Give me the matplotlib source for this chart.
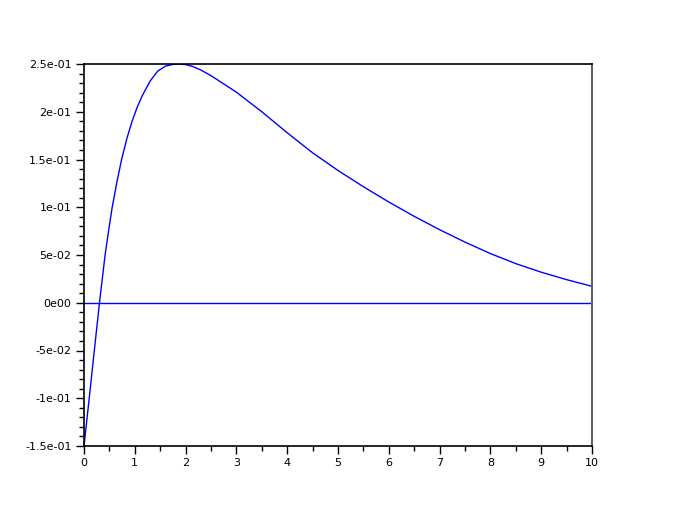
import matplotlib
matplotlib.use('Agg')
import matplotlib.pyplot as plt
from matplotlib.ticker import MultipleLocator

# values
x = [0, 0.105, 0.205, 0.305, 0.415, 0.5, 0.555, 0.65, 0.74, 0.85, 0.95, 1.05,
     1.15, 1.3, 1.45, 1.6, 1.75, 1.87, 2.0, 2.15, 2.3, 2.5, 3.0, 3.5, 4.0, 4.5,
     5.0, 5.5, 6.0, 6.5, 7.0, 7.5, 8.0, 8.5, 9.0, 9.5, 10]
y = [-0.150, -0.099, -0.049, 0.000, 0.050, 0.081, 0.100, 0.127, 0.150, 0.1731,
     0.1906, 0.2051, 0.2171, 0.232, 0.2425, 0.2477, 0.2496, 0.2500, 0.2494,
     0.2472, 0.2437, 0.2378, 0.2205, 0.2000, 0.1780, 0.1570, 0.1385, 0.1215,
     0.1055, 0.0905, 0.0765, 0.0635, 0.0515, 0.0410, 0.0320, 0.0242, 0.0172]

yticks = [-0.15, -0.10, -0.05, 0.0, 0.05, 0.10, 0.15, 0.20, 0.25]
ytick_labels = ['-1.5e-01', '-1e-01', '-5e-02', '0e00', '5e-02', '1e-01',
                '1.5e-01', '2e-01', '2.5e-01']
xticks = list(range(0, 11))

fig = plt.figure(figsize=(6.78, 5.11), dpi=100)
ax = fig.add_axes([84 / 678, 1 - 446 / 511, (592 - 84) / 678, (446 - 64) / 511])

ax.plot(x, y, color='#0000ff', linewidth=1.0)
ax.axhline(0, color='#0000ff', linewidth=1.0)

ax.set_xlim(0, 10)
ax.set_ylim(-0.15, 0.25)
ax.set_xticks(xticks)
ax.set_xticklabels([str(t) for t in xticks])
ax.set_yticks(yticks)
ax.set_yticklabels(ytick_labels)
ax.xaxis.set_minor_locator(MultipleLocator(0.5))
ax.yaxis.set_minor_locator(MultipleLocator(0.01))

ax.tick_params(which='major', direction='out', length=6, width=1, labelsize=8, pad=3)
ax.tick_params(which='minor', direction='out', length=3.5, width=1)
ax.tick_params(top=False, right=False)

for s in ['left', 'bottom', 'top']:
    ax.spines[s].set_color('black')
    ax.spines[s].set_linewidth(1.2)
ax.spines['right'].set_color('#606060')
ax.spines['right'].set_linewidth(1.5)

fig.savefig('out.png', dpi=100)
